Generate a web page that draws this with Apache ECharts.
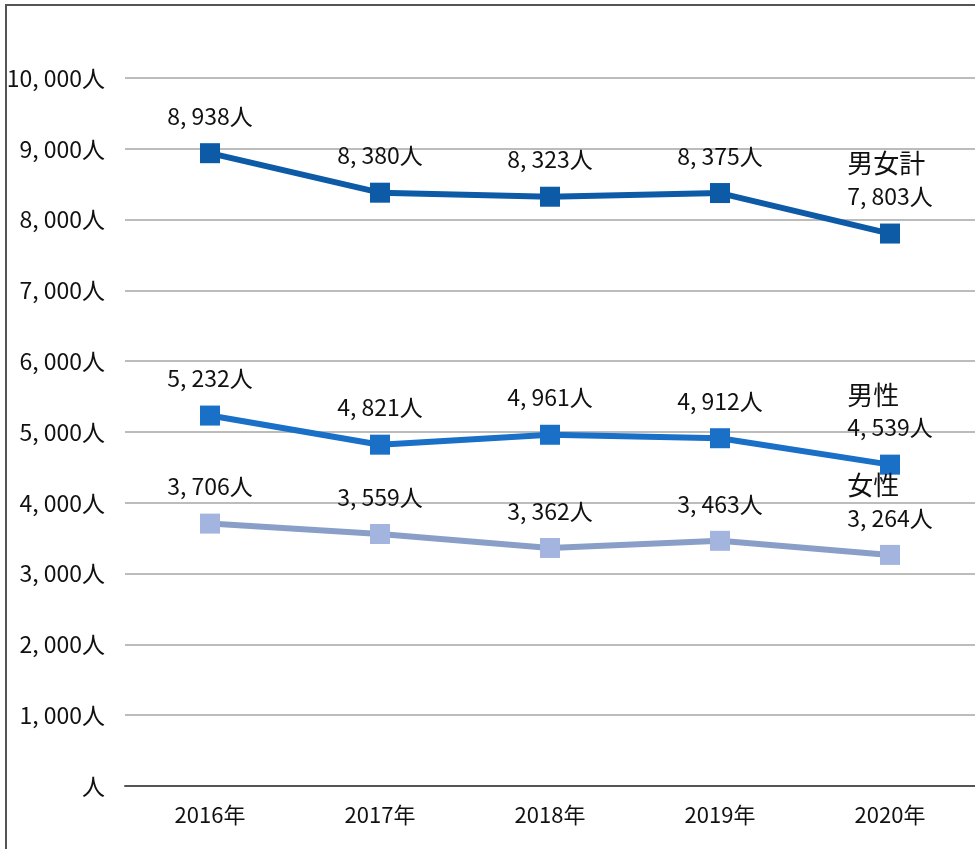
<!DOCTYPE html>
<html>
<head>
<meta charset="utf-8">
<script src="https://cdn.jsdelivr.net/npm/echarts@6/dist/echarts.min.js"></script>
<style>
  html, body { margin: 0; padding: 0; background: #fff; }
  .frame {
    position: absolute; left: 5px; top: 4px; right: 0; bottom: 0;
    border-top: 2px solid #555; border-left: 2px solid #555;
  }
  #chart { position: absolute; left: 0; top: 0; width: 975px; height: 849px; }
</style>
</head>
<body>
<div class="frame"></div>
<div id="chart"></div>
<script>
const years = ['2016年', '2017年', '2018年', '2019年', '2020年']
const total = [8938, 8380, 8323, 8375, 7803]
const male = [5232, 4821, 4961, 4912, 4539]
const female = [3706, 3559, 3362, 3463, 3264]
const yTicks = [0, 1000, 2000, 3000, 4000, 5000, 6000, 7000, 8000, 9000, 10000]

const font = '"Liberation Sans Narrow", "Noto Sans CJK JP", sans-serif'

function fmt (v) {
  if (v === 0) return '人'
  return String(v).replace(/\B(?=(\d{3})+(?!\d))/g, ', ') + '人'
}

const myChart = echarts.init(document.getElementById('chart'))

function makeSeries (name, data, lineColor, markColor) {
  return {
    name: name,
    type: 'line',
    data: data,
    symbol: 'rect',
    symbolSize: 20,
    lineStyle: { color: lineColor, width: 6 },
    itemStyle: { color: markColor },
    label: {
      show: true,
      position: 'top',
      distance: 11,
      color: '#111',
      fontFamily: font,
      fontSize: 23,
      lineHeight: 32,
      formatter: (p) => p.dataIndex === data.length - 1 ? '{n|' + name + '}\n' + fmt(p.value) : fmt(p.value),
      rich: {
        n: { fontSize: 26, fontFamily: font, color: '#111', lineHeight: 34, width: 84, align: 'left' }
      }
    }
  }
}

const option = {
  animation: false,
  grid: { left: 125, right: 0, top: 78, bottom: 63 },
  xAxis: {
    type: 'category',
    data: years,
    axisLine: { lineStyle: { color: '#555', width: 2 } },
    axisTick: { show: false },
    axisLabel: { color: '#111', fontFamily: font, fontSize: 22, margin: 18 }
  },
  yAxis: {
    type: 'value',
    min: yTicks[0],
    max: yTicks[yTicks.length - 1],
    interval: 1000,
    axisLine: { show: false },
    axisTick: { show: false },
    splitLine: { lineStyle: { color: '#a6a6a6', width: 1.5 } },
    axisLabel: { color: '#111', fontFamily: font, fontSize: 23, margin: 20, formatter: fmt }
  },
  series: [
    makeSeries('男女計', total, '#0d5aa7', '#0d5aa7'),
    makeSeries('男性', male, '#1a6fc6', '#1a6fc6'),
    makeSeries('女性', female, '#8a9fc8', '#a3b5de')
  ]
}

myChart.setOption(option)

window.addEventListener('resize', () => {
  myChart.resize()
})
</script>
</body>
</html>
